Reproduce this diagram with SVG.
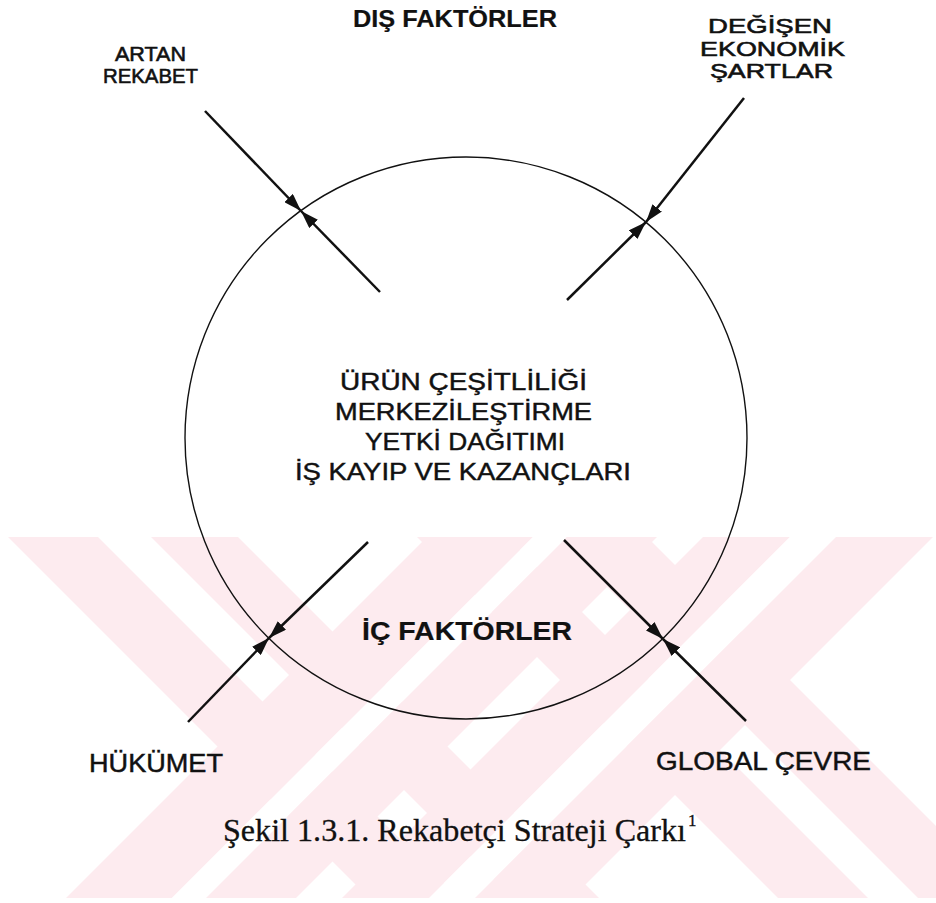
<svg xmlns="http://www.w3.org/2000/svg" width="936" height="903" viewBox="0 0 936 903">
  <style>
    .lbl { font-family: "Liberation Sans", Arial, sans-serif; font-size: 24px; fill: #111; stroke: #111; stroke-width: 0.45px; }
    .side { font-size: 21px; stroke-width: 0.6px; }
    .foot { font-size: 25px; }
    .bold { font-weight: bold; stroke-width: 0.2px; }
    .cap { font-family: "Liberation Serif", "Times New Roman", serif; font-size: 31px; fill: #111; stroke: #111; stroke-width: 0.3px; }
    .sup { font-size: 17px; }
    .wheel { fill: none; stroke: #111; stroke-width: 1.4; }
    .arrow { fill: none; stroke: #111; stroke-width: 2.5; marker-end: url(#head); }
    .wm { fill: #fdebef; }
    .wm-gap { fill: #ffffff; }
  </style>
  <defs>
    <marker id="head" viewBox="0 0 18 12" refX="18" refY="6" markerWidth="18" markerHeight="12" markerUnits="userSpaceOnUse" orient="auto">
      <path d="M0,0 L18,6 L0,12 z" fill="#111"/>
    </marker>
    <clipPath id="wmClip">
      <rect x="0" y="537" width="936" height="361"/>
    </clipPath>
  </defs>

  <rect width="936" height="903" fill="#ffffff"/>

  <!-- background stamp: crossed diagonal bands -->
  <g id="stamp" clip-path="url(#wmClip)">
    <!-- falling bands -->
    <polygon class="wm" points="-500,-201 1500,1799 1500,1886 -500,-114"/>
    <polygon class="wm" points="-500,-61 1500,1939 1500,2029 -500,29"/>
    <polygon class="wm" points="-500,-610 1500,1390 1500,1480 -500,-520"/>
    <polygon class="wm" points="-500,-470 1500,1530 1500,1620 -500,-380"/>
    <!-- rising bands (on top) -->
    <polygon class="wm" points="-500,1464 1500,-536 1500,-430 -500,1570"/>
    <polygon class="wm-gap" points="-500,1570 1500,-430 1500,-396 -500,1604"/>
    <polygon class="wm" points="-500,1604 1500,-396 1500,-306 -500,1694"/>
    <polygon class="wm" points="-500,1740 1500,-260 1500,-173 -500,1827"/>
    <polygon class="wm-gap" points="-500,1827 1500,-173 1500,-127 -500,1873"/>
    <polygon class="wm" points="-500,1873 1500,-127 1500,-30 -500,1970"/>
  </g>

  <!-- connectors -->
  <g id="connectors">
    <line class="arrow" x1="205" y1="111" x2="301" y2="211"/>
    <line class="arrow" x1="380" y1="292" x2="301" y2="211"/>
    <line class="arrow" x1="744" y1="98" x2="646" y2="222"/>
    <line class="arrow" x1="567" y1="300" x2="646" y2="222"/>
    <line class="arrow" x1="188" y1="722" x2="269" y2="638"/>
    <line class="arrow" x1="368" y1="542" x2="269" y2="638"/>
    <line class="arrow" x1="746" y1="721" x2="663" y2="639"/>
    <line class="arrow" x1="564" y1="540" x2="663" y2="639"/>
  </g>

  <!-- strategy wheel -->
  <g id="wheel">
    <circle class="wheel" cx="466" cy="438" r="281"/>
    <text class="lbl" x="340" y="390" textLength="247" lengthAdjust="spacingAndGlyphs">ÜRÜN ÇEŞİTLİLİĞİ</text>
    <text class="lbl" x="335" y="420" textLength="257" lengthAdjust="spacingAndGlyphs">MERKEZİLEŞTİRME</text>
    <text class="lbl" x="365" y="450" textLength="200" lengthAdjust="spacingAndGlyphs">YETKİ DAĞITIMI</text>
    <text class="lbl" x="295" y="480" textLength="336" lengthAdjust="spacingAndGlyphs">İŞ KAYIP VE KAZANÇLARI</text>
  </g>

  <g id="dis-faktorler">
    <text class="lbl bold" x="353" y="27" textLength="204" lengthAdjust="spacingAndGlyphs">DIŞ FAKTÖRLER</text>
  </g>

  <g id="ic-faktorler">
    <text class="lbl bold foot" x="362" y="640" textLength="210" lengthAdjust="spacingAndGlyphs">İÇ FAKTÖRLER</text>
  </g>

  <g id="artan-rekabet">
    <text class="lbl side" x="115" y="61" textLength="71" lengthAdjust="spacingAndGlyphs">ARTAN</text>
    <text class="lbl side" x="103" y="83" textLength="95" lengthAdjust="spacingAndGlyphs">REKABET</text>
  </g>

  <g id="degisen-ekonomik-sartlar">
    <text class="lbl side" x="708" y="33" textLength="124" lengthAdjust="spacingAndGlyphs">DEĞİŞEN</text>
    <text class="lbl side" x="700" y="56" textLength="145" lengthAdjust="spacingAndGlyphs">EKONOMİK</text>
    <text class="lbl side" x="710" y="78" textLength="123" lengthAdjust="spacingAndGlyphs">ŞARTLAR</text>
  </g>

  <g id="hukumet">
    <text class="lbl foot" x="89" y="772" textLength="134" lengthAdjust="spacingAndGlyphs">HÜKÜMET</text>
  </g>

  <g id="global-cevre">
    <text class="lbl foot" x="656" y="770" textLength="215" lengthAdjust="spacingAndGlyphs">GLOBAL ÇEVRE</text>
  </g>

  <!-- figure caption -->
  <g id="caption">
    <text class="cap" x="223" y="841" textLength="463" lengthAdjust="spacingAndGlyphs">Şekil 1.3.1. Rekabetçi Strateji Çarkı</text>
    <text class="cap sup" x="688" y="826">1</text>
  </g>
</svg>
